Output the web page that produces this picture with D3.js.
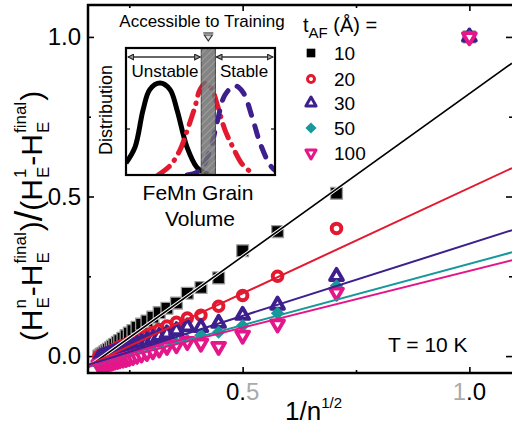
<!DOCTYPE html>
<html>
<head>
<meta charset="utf-8">
<script src="https://cdn.jsdelivr.net/npm/d3@7"></script>
<style>
  body { margin: 0; background: #fff; }
  svg { display: block; font-family: "Liberation Sans", Arial, Helvetica, sans-serif; }
</style>
</head>
<body>
<div id="chart"></div>
<script>
// x = 1/n^(1/2) for training cycles n = 1..30
const xValues = [1.0, 0.707, 0.577, 0.5, 0.447, 0.408, 0.378, 0.354, 0.333, 0.316,
    0.302, 0.289, 0.277, 0.267, 0.258, 0.25, 0.243, 0.236, 0.229, 0.224,
    0.218, 0.213, 0.209, 0.204, 0.2, 0.196, 0.192, 0.189, 0.186, 0.183];

const thicknessLabels = ['10', '20', '30', '50', '100'];

const t10 = [1.0, 0.51, 0.39, 0.33, 0.245, 0.215, 0.197, 0.166, 0.15, 0.136,
    0.122, 0.11, 0.10, 0.09, 0.08, 0.072, 0.064, 0.056, 0.049, 0.043,
    0.037, 0.031, 0.026, 0.021, 0.017, 0.013, 0.009, 0.006, 0.003, 0.0];
const t20 = [1.0, 0.40, 0.25, 0.19, 0.156, 0.128, 0.119, 0.106, 0.094, 0.083,
    0.074, 0.066, 0.059, 0.053, 0.047, 0.042, 0.037, 0.033, 0.029, 0.025,
    0.021, 0.018, 0.015, 0.012, 0.009, 0.007, 0.005, 0.003, 0.001, -0.001];
const t30 = [1.0, 0.25, 0.16, 0.128, 0.103, 0.09, 0.092, 0.08, 0.07, 0.062,
    0.055, 0.048, 0.042, 0.037, 0.032, 0.028, 0.024, 0.02, 0.017, 0.014,
    0.011, 0.008, 0.006, 0.004, 0.002, 0.0, -0.002, -0.004, -0.006, -0.008];
const t50 = [1.0, 0.22, 0.134, 0.095, 0.075, 0.065, 0.05, 0.04, 0.03, 0.02,
    0.012, 0.005, 0.0, -0.004, -0.008, -0.011, -0.013, -0.015, -0.017, -0.019,
    -0.02, -0.022, -0.023, -0.024, -0.025, -0.026, -0.027, -0.028, -0.029, -0.03];
const t100 = [1.0, 0.20, 0.10, 0.065, 0.03, 0.04, 0.045, 0.035, 0.03, 0.022,
    0.016, 0.011, 0.006, 0.002, -0.002, -0.005, -0.008, -0.01, -0.012, -0.014,
    -0.016, -0.018, -0.02, -0.021, -0.022, -0.023, -0.024, -0.025, -0.026, -0.027];

// linear fits y = a + b*x
const fitIntercepts = [-0.197, -0.134, -0.100, -0.095, -0.089];
const fitSlopes = [1.019, 0.661, 0.452, 0.384, 0.356];

const colors = ['#000000', '#e3192f', '#3d1f8e', '#17989a', '#e4168a'];

const xMajorTicks = [0.5, 1.0];
const xMinorTicks = [0.25, 0.75];
const yMajorTicks = [0.0, 0.5, 1.0];
const yMinorTicks = [0.25, 0.75];

// inset: grain volume distributions (schematic), x and y in 0..1
const distSmall = [[0, 0.13], [0.06, 0.30], [0.115, 0.71], [0.16, 0.93], [0.228, 1.0], [0.295, 0.93],
    [0.342, 0.71], [0.41, 0.30], [0.477, 0.08], [0.53, 0.02], [0.565, 0.0]];
const distMid = [[0.215, 0.0], [0.295, 0.1], [0.362, 0.27], [0.416, 0.51], [0.463, 0.74], [0.497, 0.93],
    [0.537, 1.0], [0.577, 0.93], [0.617, 0.74], [0.664, 0.49], [0.718, 0.30], [0.779, 0.12], [0.839, 0.03]];
const distLarge = [[0.41, 0.0], [0.497, 0.05], [0.564, 0.27], [0.611, 0.57], [0.664, 0.87], [0.732, 0.97],
    [0.785, 0.9], [0.852, 0.6], [0.899, 0.35], [0.966, 0.11], [1.0, 0.05]];
const trainingBand = [0.505, 0.6];

const width = 512;
const height = 430;
const plot = { left: 88, right: 512, top: 5, bottom: 373 };

const svg = d3.select('#chart').append('svg')
    .attr('width', width)
    .attr('height', height);

const x = d3.scaleLinear().domain([0.159, 1.094]).range([plot.left, plot.right]);
const y = d3.scaleLinear().domain([-0.053, 1.1]).range([plot.bottom, plot.top]);

svg.append('defs').append('clipPath').attr('id', 'plot-clip')
    .append('rect')
    .attr('x', plot.left).attr('y', plot.top)
    .attr('width', plot.right - plot.left).attr('height', plot.bottom - plot.top);

// ticks (inward, on all four sides)
function tickAxis(axis, values, size, transform) {
    const g = svg.append('g')
        .attr('transform', transform)
        .call(axis.tickValues(values).tickSize(-size).tickFormat(''));
    g.select('.domain').remove();
    g.selectAll('line').attr('stroke', '#000').attr('stroke-width', 1.6);
}
tickAxis(d3.axisBottom(x), xMajorTicks, 6, `translate(0,${plot.bottom})`);
tickAxis(d3.axisBottom(x), xMinorTicks, 3, `translate(0,${plot.bottom})`);
tickAxis(d3.axisTop(x), xMajorTicks, 6, `translate(0,${plot.top})`);
tickAxis(d3.axisTop(x), xMinorTicks, 3, `translate(0,${plot.top})`);
tickAxis(d3.axisLeft(y), yMajorTicks, 6, `translate(${plot.left},0)`);
tickAxis(d3.axisLeft(y), yMinorTicks, 3, `translate(${plot.left},0)`);
tickAxis(d3.axisRight(y), yMajorTicks, 6, `translate(${plot.right},0)`);
tickAxis(d3.axisRight(y), yMinorTicks, 3, `translate(${plot.right},0)`);

// tick labels
svg.selectAll('.ylab')
    .data(yMajorTicks)
    .enter().append('text')
    .attr('x', 81)
    .attr('y', d => y(d) + 8)
    .attr('text-anchor', 'end')
    .attr('font-size', '24px')
    .text(d => d.toFixed(1));

// x labels have a faded digit in the original
const xLabelParts = [[['0.', '#000'], ['5', '#aaa']], [['1', '#aaa'], ['.0', '#000']]];
xMajorTicks.forEach((v, i) => {
    const t = svg.append('text')
        .attr('x', x(v))
        .attr('y', 400)
        .attr('text-anchor', 'middle')
        .attr('font-size', '24px');
    xLabelParts[i].forEach(p => t.append('tspan').attr('fill', p[1]).text(p[0]));
});

// x title
const xTitle = svg.append('text')
    .attr('x', 285)
    .attr('y', 420)
    .attr('font-size', '26px');
xTitle.append('tspan').text('1/n');
xTitle.append('tspan').attr('font-size', '15px').attr('dy', -12).text('1/2');

// y title, built piece by piece in a rotated group
const yTitle = svg.append('g').attr('transform', 'translate(42,216) rotate(-90)');
const titlePieces = [
    { t: '(' }, { t: 'H', sup: 'n', sub: 'E' }, { t: '-H', sup: 'final', sub: 'E' }, { t: ')' },
    { t: '/', size: 38 },
    { t: '(' }, { t: 'H', sup: '1', sub: 'E' }, { t: '-H', sup: 'final', sub: 'E' }, { t: ')' }
];
let cursor = 0;
titlePieces.forEach(p => {
    const main = yTitle.append('text')
        .attr('x', cursor).attr('y', 0)
        .attr('font-size', (p.size || 30) + 'px')
        .text(p.t);
    cursor += main.node().getComputedTextLength();
    if (p.sup) {
        const sup = yTitle.append('text').attr('x', cursor + 1).attr('y', -16)
            .attr('font-size', '17px').text(p.sup);
        const sub = yTitle.append('text').attr('x', cursor + 1).attr('y', 7)
            .attr('font-size', '17px').text(p.sub);
        cursor += Math.max(sup.node().getComputedTextLength(), sub.node().getComputedTextLength()) + 2;
    }
});
yTitle.selectAll('text').attr('transform', `translate(${-cursor / 2},0)`);

// data markers
const seriesData = [t10, t20, t30, t50, t100];
const symbolTypes = [d3.symbolSquare, d3.symbolCircle, d3.symbolTriangle, d3.symbolSquare, d3.symbolTriangle];
const symbolSizes = [140, 72, 72, 90, 72];
const symbolRotate = [0, 0, 0, 45, 180];
const markerFill = ['#000', '#fff', '#fff', colors[3], '#fff'];
const markerStroke = ['#9a9a9a', colors[1], colors[2], 'none', colors[4]];
const markerWidth = [1.3, 4, 3.8, 0, 3.8];

const plotArea = svg.append('g').attr('clip-path', 'url(#plot-clip)');

seriesData.forEach((vals, i) => {
    const pts = vals.map((v, j) => ({ x: xValues[j], y: v })).reverse();
    plotArea.append('g').selectAll('path')
        .data(pts)
        .enter().append('path')
        .attr('d', d3.symbol().type(symbolTypes[i]).size(symbolSizes[i]))
        .attr('transform', d => `translate(${x(d.x)},${y(d.y)}) rotate(${symbolRotate[i]})`)
        .attr('fill', markerFill[i])
        .attr('stroke', markerStroke[i])
        .attr('stroke-width', markerWidth[i])
        .attr('stroke-linejoin', 'round');
});

// fit lines across the full x range
const fitLine = d3.line().x(d => x(d[0])).y(d => y(d[1]));
const xEnds = x.domain();
fitSlopes.forEach((b, i) => {
    const a = fitIntercepts[i];
    const pts = xEnds.map(xv => [xv, a + b * xv]);
    if (i === 0) {
        plotArea.append('path').attr('d', fitLine(pts))
            .attr('fill', 'none').attr('stroke', '#fff').attr('stroke-width', 3.5);
    }
    plotArea.append('path').attr('d', fitLine(pts))
        .attr('fill', 'none')
        .attr('stroke', colors[i])
        .attr('stroke-width', i === 0 ? 1.6 : 2);
});

// frame
svg.append('rect')
    .attr('x', plot.left).attr('y', plot.top)
    .attr('width', plot.right - plot.left + 2).attr('height', plot.bottom - plot.top)
    .attr('fill', 'none').attr('stroke', '#000').attr('stroke-width', 2.5);

// legend
const legend = svg.append('g');
const legTitle = legend.append('text').attr('x', 303).attr('y', 32).attr('font-size', '20px');
legTitle.append('tspan').text('t');
legTitle.append('tspan').attr('font-size', '15px').attr('dy', 6).text('AF');
legTitle.append('tspan').attr('dy', -6).text(' (\u00c5) =');

const legendY = [53, 79, 103, 128, 153];
const legendSizes = [75, 38, 45, 62, 45];
const legendWidth = [0, 3, 3, 0, 3];
thicknessLabels.forEach((lab, i) => {
    legend.append('path')
        .attr('d', d3.symbol().type(symbolTypes[i]).size(legendSizes[i]))
        .attr('transform', `translate(311,${legendY[i]}) rotate(${symbolRotate[i]})`)
        .attr('fill', i === 0 ? '#000' : markerFill[i])
        .attr('stroke', i === 0 ? 'none' : markerStroke[i])
        .attr('stroke-width', legendWidth[i])
        .attr('stroke-linejoin', 'round');
    legend.append('text')
        .attr('x', 334).attr('y', legendY[i] + 7)
        .attr('font-size', '19px')
        .text(lab);
});

svg.append('text')
    .attr('x', 388).attr('y', 352)
    .attr('font-size', '21px')
    .text('T = 10 K');

// inset
const inset = { left: 126, right: 275, top: 48, bottom: 175 };
const ix = d3.scaleLinear().domain([0, 1]).range([inset.left, inset.right]);
const iy = d3.scaleLinear().domain([0, 1]).range([inset.bottom, 83]);

const defs = svg.select('defs');
defs.append('pattern')
    .attr('id', 'hatch')
    .attr('width', 5).attr('height', 5)
    .attr('patternUnits', 'userSpaceOnUse')
    .attr('patternTransform', 'rotate(45)')
    .append('line')
    .attr('x1', 0).attr('y1', 0).attr('x2', 0).attr('y2', 5)
    .attr('stroke', '#b8b8b8').attr('stroke-width', 1);
defs.append('marker')
    .attr('id', 'arrow')
    .attr('viewBox', '0 0 10 10')
    .attr('refX', 9).attr('refY', 5)
    .attr('markerWidth', 7).attr('markerHeight', 7)
    .attr('markerUnits', 'userSpaceOnUse')
    .attr('orient', 'auto-start-reverse')
    .append('path')
    .attr('d', 'M1,1 L9,5 L1,9 Z')
    .attr('fill', '#999').attr('stroke', '#222').attr('stroke-width', 1.5);

svg.append('rect')
    .attr('x', inset.left).attr('y', inset.top)
    .attr('width', inset.right - inset.left).attr('height', inset.bottom - inset.top)
    .attr('fill', '#fff');

defs.append('clipPath').attr('id', 'inset-clip')
    .append('rect')
    .attr('x', inset.left).attr('y', inset.top)
    .attr('width', inset.right - inset.left).attr('height', inset.bottom - inset.top);

const curve = d3.line().x(d => ix(d[0])).y(d => iy(d[1])).curve(d3.curveCatmullRom);
const insetG = svg.append('g').attr('clip-path', 'url(#inset-clip)');
insetG.append('path').attr('d', curve(distSmall))
    .attr('fill', 'none').attr('stroke', '#000').attr('stroke-width', 5);
insetG.append('path').attr('d', curve(distMid))
    .attr('fill', 'none').attr('stroke', colors[1]).attr('stroke-width', 5)
    .attr('stroke-linecap', 'round').attr('stroke-dasharray', '14,8,0.5,8');
insetG.append('path').attr('d', curve(distLarge))
    .attr('fill', 'none').attr('stroke', colors[2]).attr('stroke-width', 5)
    .attr('stroke-linecap', 'round').attr('stroke-dasharray', '11,11');

// band of grains accessible to training
const bandX0 = ix(trainingBand[0]);
const bandX1 = ix(trainingBand[1]);
svg.append('rect')
    .attr('x', bandX0).attr('y', inset.top)
    .attr('width', bandX1 - bandX0).attr('height', inset.bottom - inset.top)
    .attr('fill', '#6e6e6e').attr('fill-opacity', 0.85)
    .attr('stroke', '#444').attr('stroke-width', 1);
svg.append('rect')
    .attr('x', bandX0).attr('y', inset.top)
    .attr('width', bandX1 - bandX0).attr('height', inset.bottom - inset.top)
    .attr('fill', 'url(#hatch)');

// inset ticks
[[inset.left, 4], [inset.right, -4]].forEach(([xp, d]) => {
    svg.append('line').attr('x1', xp).attr('x2', xp + d)
        .attr('y1', iy(0.5)).attr('y2', iy(0.5))
        .attr('stroke', '#000').attr('stroke-width', 1.2);
});

svg.append('rect')
    .attr('x', inset.left).attr('y', inset.top)
    .attr('width', inset.right - inset.left).attr('height', inset.bottom - inset.top)
    .attr('fill', 'none').attr('stroke', '#000').attr('stroke-width', 2.2);

// stability arrows
const arrowY = 57;
[[inset.left + 2, bandX0 - 1], [bandX1 + 1, inset.right - 2]].forEach(([a, b]) => {
    svg.append('line')
        .attr('x1', a).attr('x2', b).attr('y1', arrowY).attr('y2', arrowY)
        .attr('stroke', '#333').attr('stroke-width', 1.5)
        .attr('marker-start', 'url(#arrow)').attr('marker-end', 'url(#arrow)');
});

svg.append('text').attr('x', 165).attr('y', 77).attr('text-anchor', 'middle')
    .attr('font-size', '17px').text('Unstable');
svg.append('text').attr('x', 244).attr('y', 77).attr('text-anchor', 'middle')
    .attr('font-size', '17px').text('Stable');
svg.append('text').attr('x', 202).attr('y', 27).attr('text-anchor', 'middle')
    .attr('font-size', '17px').text('Accessible to Training');

// pointer to the band
const px = (bandX0 + bandX1) / 2;
svg.append('line').attr('x1', px - 5).attr('x2', px + 5).attr('y1', 33).attr('y2', 33)
    .attr('stroke', '#333').attr('stroke-width', 1.2);
svg.append('path')
    .attr('d', `M${px - 4},35 L${px + 4},35 L${px},41 Z`)
    .attr('fill', '#ddd').attr('stroke', '#333').attr('stroke-width', 1.2);

svg.append('text')
    .attr('transform', 'translate(112,110) rotate(-90)')
    .attr('text-anchor', 'middle')
    .attr('font-size', '18px')
    .text('Distribution');
svg.append('text').attr('x', 198).attr('y', 200).attr('text-anchor', 'middle')
    .attr('font-size', '21px').text('FeMn Grain');
svg.append('text').attr('x', 200).attr('y', 226).attr('text-anchor', 'middle')
    .attr('font-size', '21px').text('Volume');
</script>
</body>
</html>
